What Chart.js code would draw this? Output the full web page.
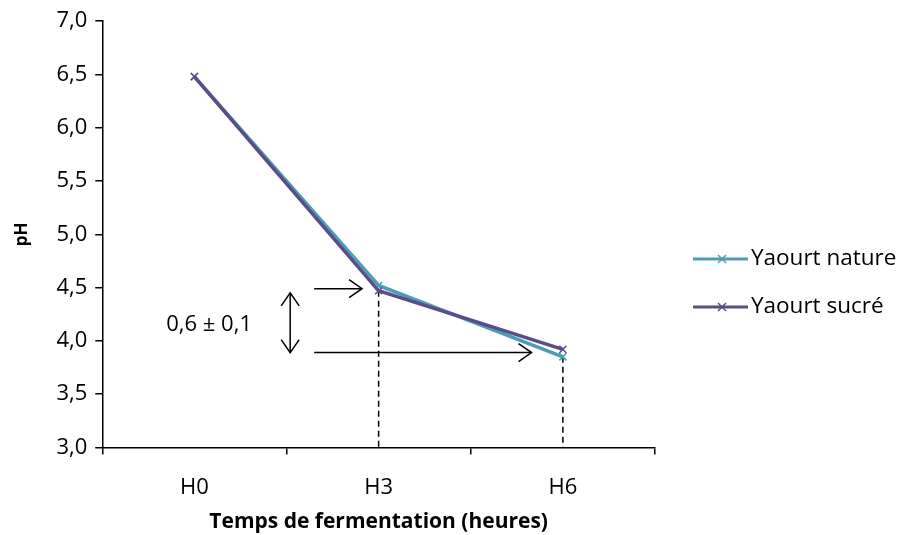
<!DOCTYPE html>
<html>
<head>
<meta charset="utf-8">
<script src="https://cdn.jsdelivr.net/npm/chart.js@4"></script>
<style>
  html, body { margin: 0; padding: 0; background: #fff; }
  #wrap { width: 900px; height: 535px; }
</style>
</head>
<body>
<div id="wrap"><canvas id="graphique-ph"></canvas></div>
<script>
// données
const heures = ['H0', 'H3', 'H6'];
const phNature = [6.48, 4.52, 3.85];
const phSucre = [6.48, 4.47, 3.92];
const yTicks = [3.0, 3.5, 4.0, 4.5, 5.0, 5.5, 6.0, 6.5, 7.0];

// annotations (en unités du graphique : index de catégorie, pH)
const flecheHaut = { x1: 0.65, x2: 0.91, y: 4.49 };
const flecheBas = { x1: 0.65, x2: 1.83, y: 3.89 };
const flecheDouble = { x: 0.52, y1: 4.45, y2: 3.89 };
const texteEcart = { x: 0.08, y: 4.15, txt: '0,6 \u00b1 0,1' };

const couleurNature = '#4A9EB6';
const couleurSucre = '#5B4D88';
const police = '"Open Sans", sans-serif';

const xPix = (scale, idx) => {
    const a = scale.getPixelForValue(0);
    const b = scale.getPixelForValue(1);
    return a + (b - a) * idx;
};

const chevron = (ctx, x, y, angle) => {
    ctx.save();
    ctx.translate(x, y);
    ctx.rotate(angle);
    ctx.beginPath();
    ctx.moveTo(-13, -9);
    ctx.lineTo(0, 0);
    ctx.lineTo(-13, 9);
    ctx.stroke();
    ctx.restore();
};

const annotations = {
    id: 'annotations',
    beforeDatasetsDraw(chart) {
        const { ctx, scales: { x, y } } = chart;
        ctx.save();
        ctx.strokeStyle = '#000';
        ctx.lineWidth = 1.5;
        ctx.setLineDash([6, 4]);
        // traits pointillés sous H3 et H6
        [1, 2].forEach((i) => {
            const v = Math.min(phNature[i], phSucre[i]);
            ctx.beginPath();
            ctx.moveTo(xPix(x, i), y.getPixelForValue(v));
            ctx.lineTo(xPix(x, i), y.bottom);
            ctx.stroke();
        });
        ctx.restore();
    },
    afterDraw(chart) {
        const { ctx, scales: { x, y } } = chart;
        ctx.save();
        ctx.strokeStyle = '#000';
        ctx.lineWidth = 1.5;

        [flecheHaut, flecheBas].forEach((f) => {
            const py = y.getPixelForValue(f.y);
            const x2 = xPix(x, f.x2);
            ctx.beginPath();
            ctx.moveTo(xPix(x, f.x1), py);
            ctx.lineTo(x2, py);
            ctx.stroke();
            chevron(ctx, x2, py, 0);
        });

        const dx = xPix(x, flecheDouble.x);
        const dy1 = y.getPixelForValue(flecheDouble.y1);
        const dy2 = y.getPixelForValue(flecheDouble.y2);
        ctx.beginPath();
        ctx.moveTo(dx, dy1);
        ctx.lineTo(dx, dy2);
        ctx.stroke();
        chevron(ctx, dx, dy1, -Math.PI / 2);
        chevron(ctx, dx, dy2, Math.PI / 2);

        ctx.fillStyle = '#000';
        ctx.font = '22px ' + police;
        ctx.textAlign = 'center';
        ctx.textBaseline = 'middle';
        ctx.fillText(texteEcart.txt, xPix(x, texteEcart.x), y.getPixelForValue(texteEcart.y));

        // légende
        const series = [
            { label: 'Yaourt nature', color: couleurNature, yy: 259 },
            { label: 'Yaourt sucré', color: couleurSucre, yy: 307 },
        ];
        series.forEach((s) => {
            ctx.strokeStyle = s.color;
            ctx.lineWidth = 3;
            ctx.beginPath();
            ctx.moveTo(693, s.yy);
            ctx.lineTo(748, s.yy);
            ctx.stroke();
            ctx.lineWidth = 1.5;
            ctx.beginPath();
            ctx.moveTo(718, s.yy - 4);
            ctx.lineTo(726, s.yy + 4);
            ctx.moveTo(718, s.yy + 4);
            ctx.lineTo(726, s.yy - 4);
            ctx.stroke();
            ctx.fillStyle = '#000';
            ctx.textAlign = 'left';
            ctx.font = '22.5px ' + police;
            ctx.fillText(s.label, 751, s.yy);
        });
        ctx.restore();
    }
};

new Chart(document.getElementById('graphique-ph'), {
    type: 'line',
    data: {
        labels: heures,
        datasets: [
            {
                label: 'Yaourt nature',
                data: phNature,
                borderColor: couleurNature,
                backgroundColor: couleurNature,
                borderWidth: 3.5,
                pointStyle: 'crossRot',
                pointRadius: 5,
                pointBorderWidth: 1.5,
                tension: 0,
                order: 1,
            },
            {
                label: 'Yaourt sucré',
                data: phSucre,
                borderColor: couleurSucre,
                backgroundColor: couleurSucre,
                borderWidth: 3.5,
                pointStyle: 'crossRot',
                pointRadius: 5,
                pointBorderWidth: 1.5,
                tension: 0,
                order: 0,
            },
        ],
    },
    options: {
        responsive: true,
        maintainAspectRatio: false,
        animation: false,
        layout: { padding: { top: 13, right: 245, left: 6, bottom: 0 } },
        plugins: {
            legend: { display: false },
            tooltip: { enabled: false },
        },
        scales: {
            x: {
                offset: true,
                border: { color: '#000', width: 1.5 },
                grid: { display: true, drawOnChartArea: false, drawTicks: true, tickLength: 7, color: '#000', lineWidth: 1.5, offset: true },
                ticks: { color: '#000', font: { family: police, size: 22 }, padding: 20 },
                title: { display: true, text: 'Temps de fermentation (heures)', color: '#000', font: { family: police, size: 21, weight: 'bold' }, padding: { top: -11, bottom: 0 } },
            },
            y: {
                min: 3,
                max: 7,
                afterBuildTicks: (axis) => { axis.ticks = yTicks.map((v) => ({ value: v })); },
                border: { color: '#000', width: 1.5 },
                grid: { display: true, drawOnChartArea: false, drawTicks: true, tickLength: 7, color: '#000', lineWidth: 1.5 },
                ticks: {
                    color: '#000',
                    font: { family: police, size: 22 },
                    padding: 8,
                    callback: (v) => Number(v).toFixed(1).replace('.', ','),
                },
                title: { display: true, text: 'pH', color: '#000', font: { family: police, size: 17, weight: 'bold' }, padding: { top: 6, bottom: 16 } },
            },
        },
    },
    plugins: [annotations],
});
</script>
</body>
</html>
